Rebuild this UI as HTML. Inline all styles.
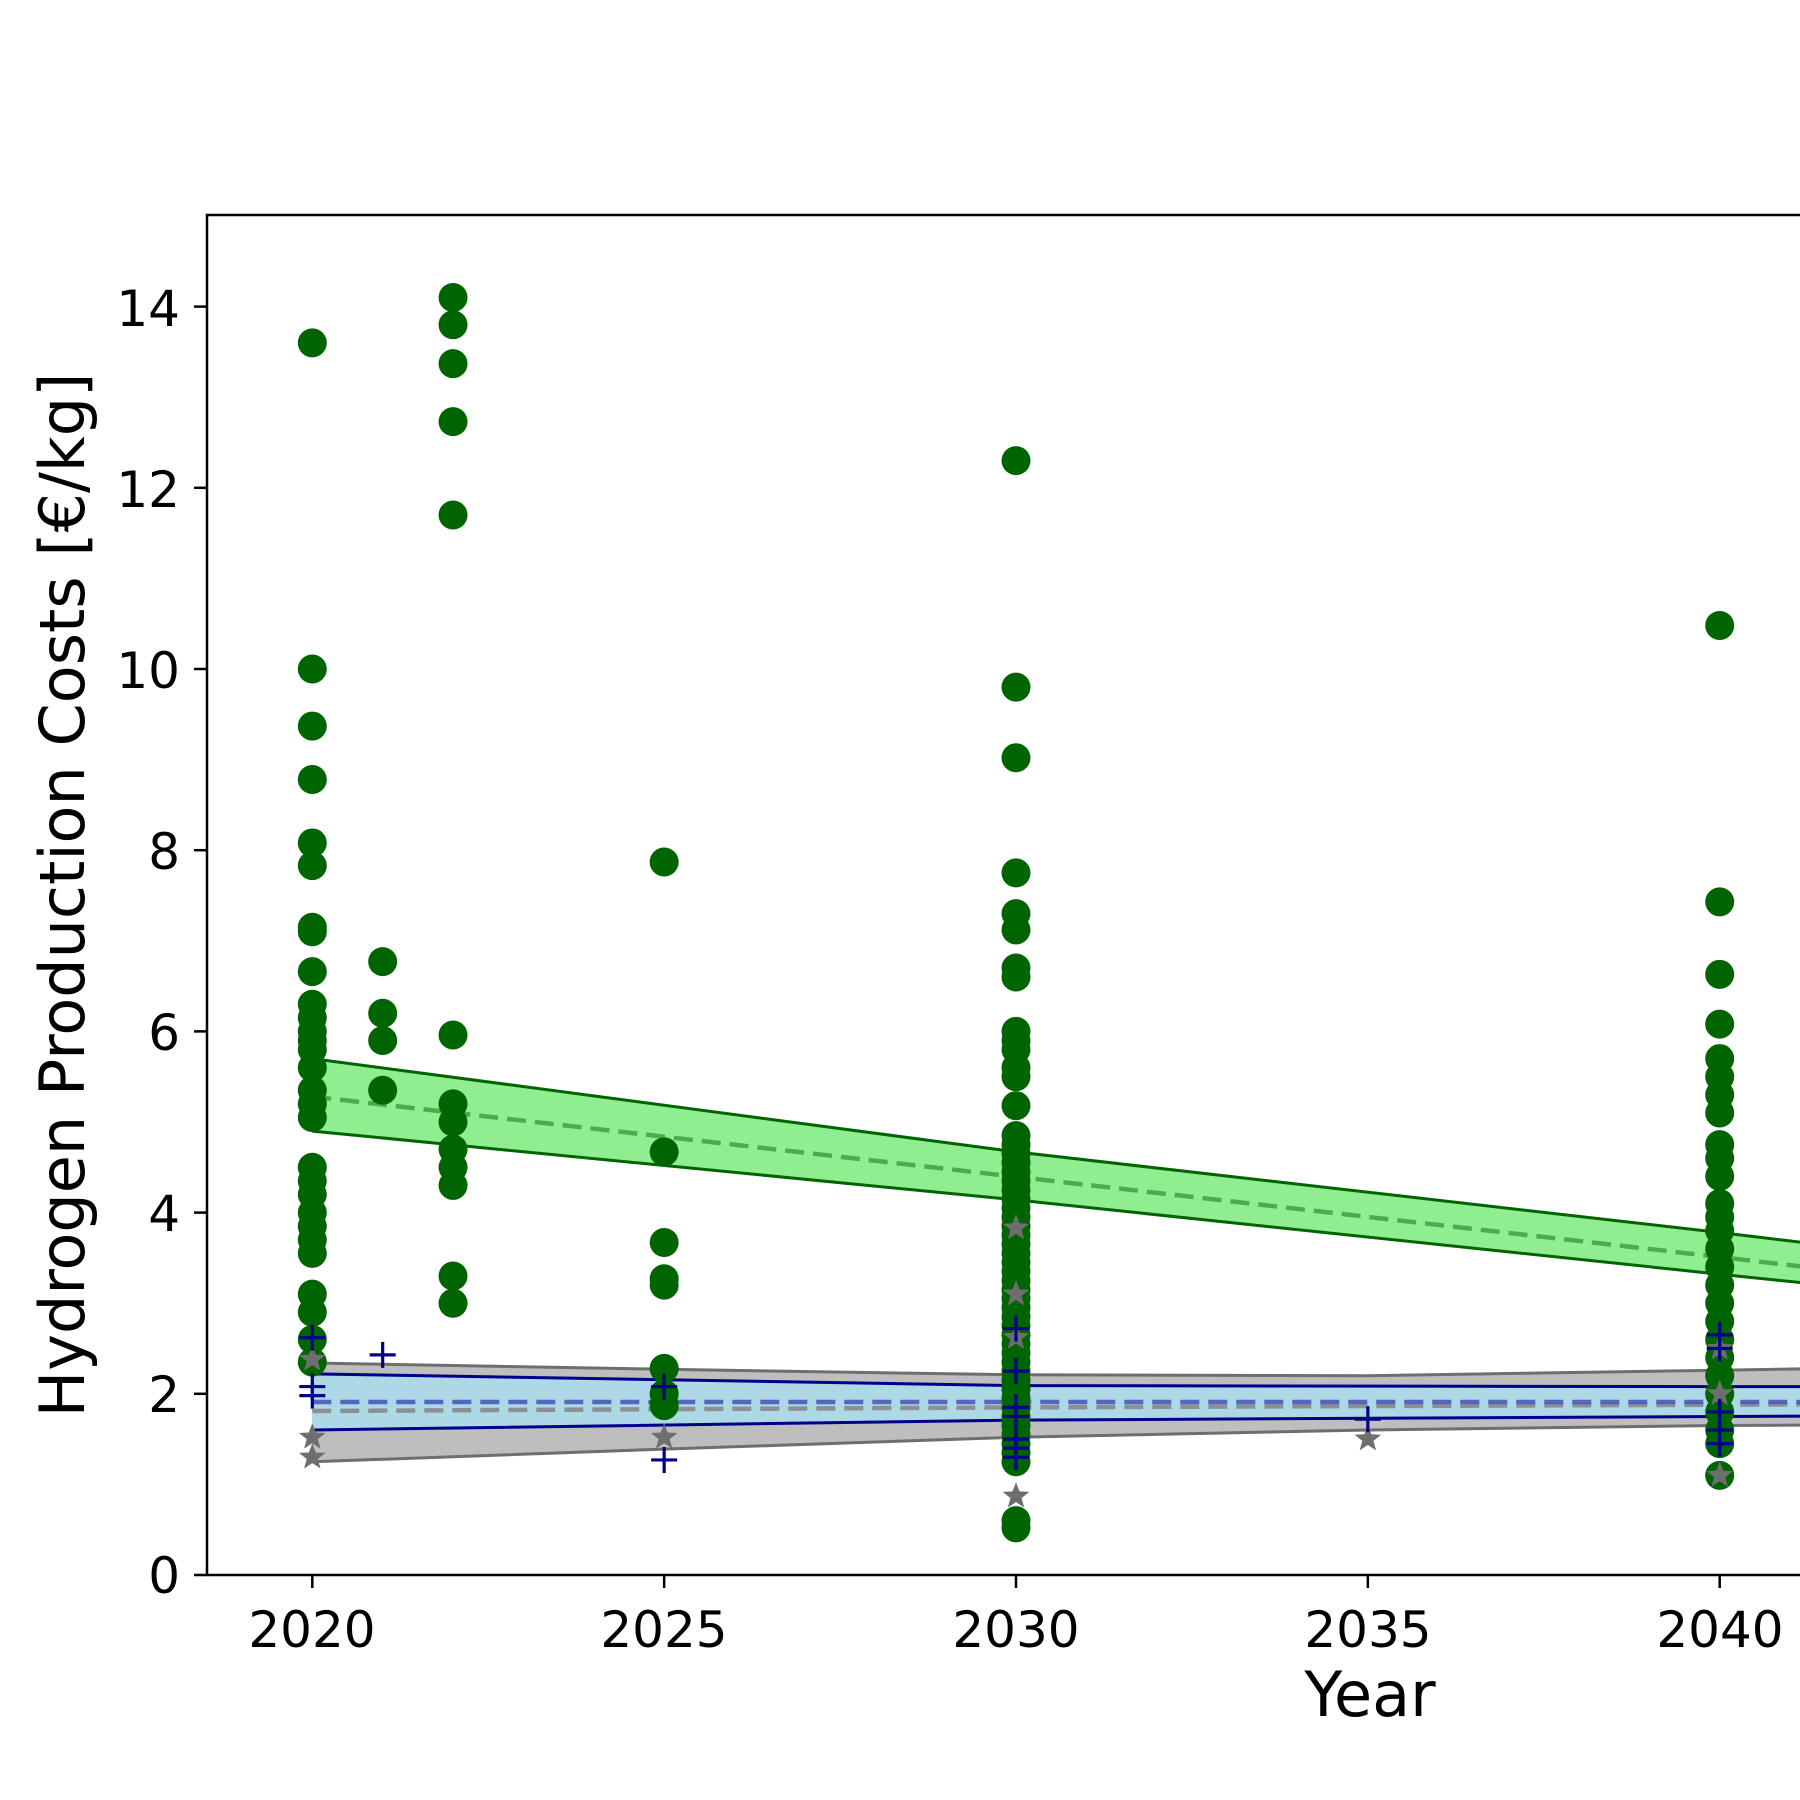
<!DOCTYPE html>
<html><head><meta charset="utf-8"><style>
html,body{margin:0;padding:0;background:#fff;width:1800px;height:1800px;overflow:hidden}
svg{display:block}
text{font-family:"DejaVu Sans","Liberation Sans",sans-serif;fill:#000}
</style></head><body>
<svg id="s" width="1800" height="1800" viewBox="0 0 1800 1800" xmlns="http://www.w3.org/2000/svg">
<defs><clipPath id="c"><rect x="207" y="215" width="1600" height="1360"/></clipPath></defs>
<g id="plot" clip-path="url(#c)"></g>
<rect x="207" y="215" width="1700" height="1360" fill="none" stroke="#000" stroke-width="2.5"/>
<g id="ticks" stroke="#000" stroke-width="2.5"></g>
<g font-size="50" text-anchor="end">
<text x="180" y="1593">0</text>
<text x="180" y="1412">2</text>
<text x="180" y="1231">4</text>
<text x="180" y="1050">6</text>
<text x="180" y="869">8</text>
<text x="180" y="688">10</text>
<text x="180" y="507">12</text>
<text x="180" y="326">14</text>
</g>
<g font-size="50" text-anchor="middle">
<text x="312" y="1647">2020</text>
<text x="664" y="1647">2025</text>
<text x="1016" y="1647">2030</text>
<text x="1368" y="1647">2035</text>
<text x="1720" y="1647">2040</text>
</g>
<text x="1370" y="1716" font-size="62" text-anchor="middle">Year</text>
<text transform="translate(84,895) rotate(-90)" font-size="62" text-anchor="middle">Hydrogen Production Costs [€/kg]</text>
</svg>
<script>
var X=function(y){return 312.3+70.37*(y-2020)};
var Y=function(v){return 1575-90.6*v};
var NS="http://www.w3.org/2000/svg";
var P=document.getElementById("plot"),T=document.getElementById("ticks");
function el(p,n,a){var e=document.createElementNS(NS,n);for(var k in a)e.setAttribute(k,a[k]);p.appendChild(e);return e}
function pts(arr){return arr.map(function(d){return X(d[0]).toFixed(1)+","+Y(d[1]).toFixed(1)}).join(" ")}
[0,2,4,6,8,10,12,14].forEach(function(v){el(T,"line",{x1:194,x2:207,y1:Y(v),y2:Y(v)})});
[2020,2025,2030,2035,2040].forEach(function(y){el(T,"line",{x1:X(y),x2:X(y),y1:1575,y2:1588})});
function band(up,lo,fill,edge,w){
 el(P,"polygon",{points:pts(up.concat(lo.slice().reverse())),fill:fill,stroke:"none"});
 el(P,"polyline",{points:pts(up),fill:"none",stroke:edge,"stroke-width":w});
 el(P,"polyline",{points:pts(lo),fill:"none",stroke:edge,"stroke-width":w});
}
band([[2020,5.7],[2030,4.67],[2040,3.78],[2043,3.5]],[[2020,4.9],[2030,4.14],[2040,3.32],[2043,3.08]],"#90ee90","#006400",3);
el(P,"polyline",{points:pts([[2020,5.28],[2040,3.51],[2043,3.24]]),fill:"none",stroke:"#3c9a3c","stroke-opacity":0.8,"stroke-width":4.5,"stroke-dasharray":"19,9"});
band([[2020,2.34],[2025,2.27],[2030,2.21],[2035,2.2],[2040,2.26],[2043,2.3]],[[2020,1.25],[2025,1.39],[2030,1.52],[2035,1.6],[2040,1.65],[2043,1.66]],"#bebebe","#6e6e6e",3);
band([[2020,2.22],[2030,2.09],[2040,2.08],[2043,2.08]],[[2020,1.6],[2030,1.71],[2040,1.75],[2043,1.76]],"#add8e6","#00008b",3);
el(P,"polyline",{points:pts([[2020,1.81],[2030,1.85],[2040,1.88],[2043,1.89]]),fill:"none",stroke:"#808080","stroke-opacity":0.8,"stroke-width":4.5,"stroke-dasharray":"19,9"});
el(P,"polyline",{points:pts([[2020,1.91],[2043,1.91]]),fill:"none",stroke:"#4a5ab8","stroke-opacity":0.9,"stroke-width":4.5,"stroke-dasharray":"19,9"});
var G={2020:[13.6,10,9.37,8.78,8.08,7.83,7.15,7.1,6.66,6.3,6.15,6,5.9,5.8,5.6,5.35,5.2,5.05,4.5,4.35,4.2,4,3.85,3.7,3.55,3.1,2.9,2.6,2.35],
2021:[6.77,6.2,5.9,5.35],
2022:[14.1,13.8,13.37,12.73,11.7,5.96,5.2,5,4.7,4.5,4.3,3.3,3],
2025:[7.87,4.67,3.67,3.27,3.2,2.28,2,1.87],
2030:[12.3,9.8,9.02,7.75,7.3,7.12,6.7,6.6,6,5.9,5.8,5.6,5.5,5.18,0.6,0.52],
2040:[10.48,7.43,6.63,6.08,5.7,5.5,5.3,5.1,4.75,4.6,4.4,4.1,3.95,3.8,3.6,3.4,3.2,3,2.8,2.6,2.4,2.2,2,1.8,1.6,1.45,1.1]};
for(var v=1.25;v<=4.9;v+=0.1)G[2030].push(v);
for(var y in G)G[y].forEach(function(v){el(P,"circle",{cx:X(+y),cy:Y(v),r:14.5,fill:"#006400"})});
function star(cx,cy,r){var s=[];for(var i=0;i<10;i++){var a=-Math.PI/2+i*Math.PI/5,rr=i%2?r*0.42:r;s.push((cx+rr*Math.cos(a)).toFixed(1)+","+(cy+rr*Math.sin(a)).toFixed(1))}
 el(P,"polygon",{points:s.join(" "),fill:"#6e6e6e"})}
[[2020,2.38],[2020,1.52],[2020,1.3],[2025,1.52],[2030,3.83],[2030,3.1],[2030,2.62],[2030,0.87],[2035,1.5],[2040,2.0],[2040,1.1],[2040,2.5]].forEach(function(d){star(X(d[0]),Y(d[1]),14)});
[[2020,2.62],[2020,2.08],[2020,1.98],[2021,2.43],[2025,2.08],[2025,1.27],[2030,2.72],[2030,2.25],[2030,1.85],[2030,1.75],[2030,1.5],[2030,1.4],[2030,1.3],[2035,1.72],[2040,2.65],[2040,2.5],[2040,1.8],[2040,1.6],[2040,1.45]].forEach(function(d){
 var x=X(d[0]),y=Y(d[1]);
 el(P,"path",{d:"M"+(x-13)+","+y+"H"+(x+13)+"M"+x+","+(y-13)+"V"+(y+13),stroke:"#00008b","stroke-width":3.2,fill:"none"});
});
</script>
</body></html>
